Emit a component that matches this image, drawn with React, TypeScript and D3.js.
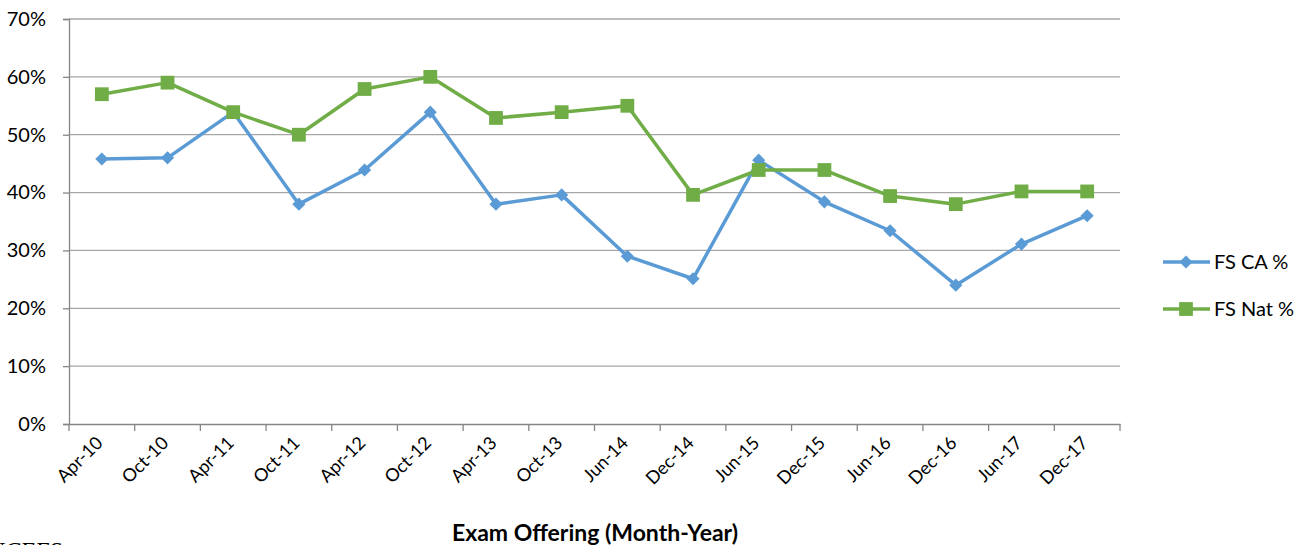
import { useEffect, useRef } from "react";
import * as d3 from "d3";

const categories = [
  "Apr-10", "Oct-10", "Apr-11", "Oct-11", "Apr-12", "Oct-12", "Apr-13", "Oct-13",
  "Jun-14", "Dec-14", "Jun-15", "Dec-15", "Jun-16", "Dec-16", "Jun-17", "Dec-17",
];
const caValues = [45.8, 46.0, 53.9, 38.0, 43.9, 53.9, 38.0, 39.6, 29.0, 25.1, 45.6, 38.4, 33.4, 24.0, 31.1, 36.0];
const natValues = [57.0, 59.0, 53.9, 50.0, 57.9, 60.0, 52.9, 53.9, 55.0, 39.6, 43.9, 43.9, 39.4, 38.0, 40.2, 40.2];
const yTicks = [0, 10, 20, 30, 40, 50, 60, 70];
const seriesNames = ["FS CA %", "FS Nat %"];

const W = 1312;
const H = 545;
const font = "Lato, 'Open Sans', sans-serif";

function App() {
  const ref = useRef<SVGSVGElement>(null);

  useEffect(() => {
    const svg = d3.select(ref.current);
    svg.selectAll("*").remove();

    const left = 69, right = 1120, top = 19, bottom = 424;
    const x = d3.scaleBand().domain(categories).range([left, right]);
    const y = d3.scaleLinear().domain([0, 70]).range([bottom, top]);

    // gridlines
    svg.append("g")
      .selectAll("line")
      .data(yTicks.filter((t) => t > 0))
      .join("line")
      .attr("x1", left).attr("x2", right)
      .attr("y1", (d) => y(d)).attr("y2", (d) => y(d))
      .attr("stroke", "#a6a6a6").attr("stroke-width", 1.3);

    // y axis
    const yAxis = svg.append("g").attr("transform", `translate(${left},0)`)
      .call(d3.axisLeft(y).tickValues(yTicks).tickSize(6).tickPadding(17).tickFormat((d) => `${d}%`));
    yAxis.select(".domain").attr("stroke", "#868686").attr("stroke-width", 1.3);
    yAxis.selectAll(".tick line").attr("stroke", "#868686").attr("stroke-width", 1.3);
    yAxis.selectAll("text").attr("font-family", font).attr("font-size", 20).attr("fill", "#000");

    // x axis
    const xAxis = svg.append("g").attr("transform", `translate(0,${bottom})`)
      .call(d3.axisBottom(x).tickSize(0).tickSizeOuter(0));
    xAxis.select(".domain").attr("stroke", "#868686").attr("stroke-width", 1.3);
    xAxis.selectAll(".tick text")
      .attr("font-family", font).attr("font-size", 18).attr("fill", "#000")
      .attr("text-anchor", "end").attr("dy", null).attr("y", 0)
      .attr("transform", "translate(2,20) rotate(-45)");
    // boundary ticks
    const bounds = categories.map((c) => x(c) as number).concat([right]);
    svg.append("g").selectAll("line").data(bounds).join("line")
      .attr("x1", (d) => d).attr("x2", (d) => d)
      .attr("y1", bottom).attr("y2", bottom + 7)
      .attr("stroke", "#868686").attr("stroke-width", 1.3);

    const cx = (i: number) => (x(categories[i]) as number) + x.bandwidth() / 2;
    const colors = ["#5b9bd5", "#70ad47"];
    const diamond = d3.symbol().type(d3.symbolDiamond2).size(110);
    const square = d3.symbol().type(d3.symbolSquare).size(190);

    [caValues, natValues].forEach((vals, s) => {
      const line = d3.line<number>().x((_, i) => cx(i)).y((d) => y(d));
      svg.append("path").datum(vals).attr("d", line)
        .attr("fill", "none").attr("stroke", colors[s]).attr("stroke-width", 3.5)
        .attr("stroke-linejoin", "round");
      svg.append("g").selectAll("path").data(vals).join("path")
        .attr("d", s === 0 ? diamond() : square())
        .attr("transform", (d, i) => `translate(${cx(i)},${y(d)})`)
        .attr("fill", colors[s]);
    });

    // legend
    seriesNames.forEach((name, s) => {
      const ly = 262 + s * 47;
      const g = svg.append("g");
      g.append("line").attr("x1", 1163).attr("x2", 1210).attr("y1", ly).attr("y2", ly)
        .attr("stroke", colors[s]).attr("stroke-width", 3.5);
      g.append("path").attr("d", s === 0 ? diamond() : square())
        .attr("transform", `translate(1186,${ly})`).attr("fill", colors[s]);
      g.append("text").attr("x", 1214).attr("y", ly).attr("dy", "0.35em")
        .attr("font-family", font).attr("font-size", 20).attr("fill", "#000").text(name);
    });

    // axis title
    svg.append("text").attr("x", 595).attr("y", 541)
      .attr("text-anchor", "middle").attr("font-family", font).attr("font-weight", "bold")
      .attr("font-size", 23).attr("fill", "#000").text("Exam Offering (Month-Year)");

    // cut-off caption
    svg.append("text").attr("x", -12).attr("y", 558)
      .attr("font-family", "'Liberation Serif', serif").attr("font-style", "italic")
      .attr("font-size", 24).attr("fill", "#000").text("NCEES");
  }, []);

  return (
    <div style={{ position: "absolute", left: 0, top: 0 }}>
      <svg ref={ref} width={W} height={H} style={{ display: "block", background: "#fff" }}></svg>
    </div>
  );
}

export default App;
